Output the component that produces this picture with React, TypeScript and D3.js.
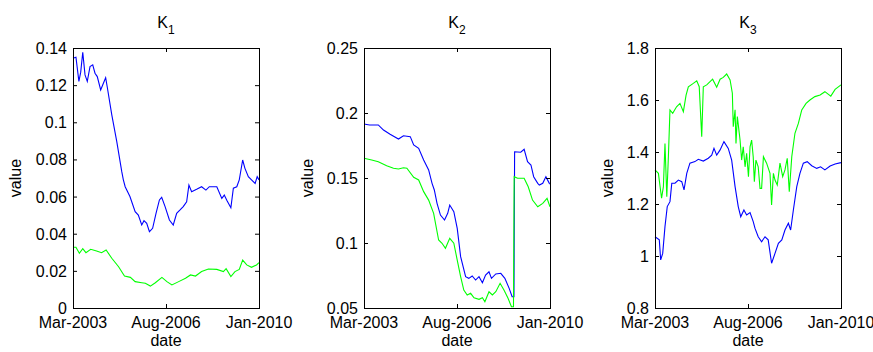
import React from "react";
import * as d3 from "d3";

// months counted from Mar-2003
const xTickMonths = [0, 41, 82];
const xTickLabels = ["Mar-2003", "Aug-2006", "Jan-2010"];

const k1Blue: [number, number][] = [
  [0, 0.1345], [1.3, 0.135], [2.6, 0.122], [3.4, 0.127], [4.3, 0.1377], [5.3, 0.1255],
  [6.3, 0.122], [7.5, 0.13], [8.7, 0.1309], [9.7, 0.1264], [10.7, 0.1246], [12.2, 0.1174],
  [13.4, 0.121], [14.4, 0.124], [15.1, 0.119], [17.1, 0.104], [19.3, 0.0896], [21.5, 0.0734],
  [22.2, 0.069], [23, 0.0653], [25.1, 0.06], [27.4, 0.0519], [28.8, 0.05], [30.3, 0.0447],
  [31.3, 0.047], [32.5, 0.0456], [33.7, 0.0411], [35.1, 0.0429], [36.6, 0.051], [38.1, 0.0582],
  [39.1, 0.0596], [40.6, 0.0546], [42.5, 0.0474], [44.2, 0.0447], [45.7, 0.051], [47.2, 0.0528],
  [48.6, 0.0546], [50.1, 0.0572], [51.1, 0.0662], [52.3, 0.0626], [54.5, 0.0639], [56.7, 0.0653],
  [58.6, 0.0635], [60.1, 0.0653], [63.4, 0.0653], [65.6, 0.059], [66.7, 0.0608], [67.8, 0.058],
  [69.6, 0.054], [70.7, 0.0645], [72.2, 0.0653], [73.3, 0.069], [74.8, 0.0797], [75.8, 0.0752],
  [77.3, 0.0707], [78.7, 0.069], [80.3, 0.0671], [81.2, 0.0707], [82, 0.069],
];
const k1Green: [number, number][] = [
  [0, 0.0327], [1.3, 0.0327], [2.8, 0.0295], [4.3, 0.0319], [5.7, 0.0298], [7.8, 0.0316],
  [10.4, 0.0307], [12.6, 0.0298], [14.6, 0.0312], [17.1, 0.0268], [20.1, 0.0222], [22.7, 0.0172],
  [25.3, 0.0165], [27.4, 0.0142], [30.3, 0.0136], [31.9, 0.0133], [34.1, 0.0118], [36.3, 0.0136],
  [39.2, 0.0165], [41.4, 0.0142], [43.6, 0.0124], [46.6, 0.0142], [49.6, 0.016], [51.8, 0.0178],
  [54, 0.0172], [56.7, 0.0196], [59.7, 0.021], [63.4, 0.0208], [66.3, 0.0196], [67.5, 0.0212],
  [69.6, 0.0169], [71.4, 0.0196], [73.3, 0.0208], [74.8, 0.0258], [76.6, 0.0232], [78.7, 0.0219],
  [80.9, 0.0232], [82, 0.0244],
];

const k2Blue: [number, number][] = [
  [0, 0.1915], [2.4, 0.1908], [6.3, 0.1908], [8.6, 0.1869], [11.5, 0.1836], [15.2, 0.18],
  [17.4, 0.1825], [20.4, 0.1818], [21.9, 0.1754], [24.1, 0.1728], [26.3, 0.1638], [28.5, 0.1562],
  [30, 0.1459], [31, 0.1408], [32.2, 0.1305], [33.7, 0.1215], [35.5, 0.1177], [36.9, 0.1228],
  [37.8, 0.1292], [39.6, 0.1241], [41.1, 0.1113], [42.6, 0.0895], [44.8, 0.0741], [46.2, 0.0728],
  [47.7, 0.0746], [49.2, 0.0715], [50.7, 0.0741], [52.2, 0.0695], [53.6, 0.0754], [55.1, 0.0779],
  [56.2, 0.0728], [58.1, 0.0762], [60.3, 0.0767], [62.1, 0.0728], [64, 0.0651], [65.3, 0.0587],
  [66.1, 0.0587], [66.4, 0.1702], [67.7, 0.17], [69.1, 0.1698], [70.6, 0.1721], [72.1, 0.1625],
  [73.6, 0.16], [74.8, 0.151], [76.6, 0.1459], [77.3, 0.1446], [78.8, 0.1459], [80.2, 0.151],
  [81.7, 0.1459], [82, 0.1454],
];
const k2Green: [number, number][] = [
  [0, 0.1652], [3.4, 0.1638], [6.3, 0.1625], [10, 0.1595], [13, 0.1575], [15.2, 0.1569],
  [17.4, 0.1579], [18.9, 0.1575], [21.9, 0.1505], [24.1, 0.1485], [26.3, 0.1395], [28.5, 0.133],
  [30.7, 0.1228], [32.9, 0.1023], [34.4, 0.0998], [35.9, 0.0959], [37.8, 0.1036], [39.6, 0.0998],
  [41.1, 0.0869], [42.6, 0.0741], [44, 0.0638], [45.5, 0.06], [47, 0.0613], [48.5, 0.0579],
  [50.7, 0.0567], [52.2, 0.0579], [53.3, 0.0548], [55.1, 0.0625], [56.6, 0.06], [58.1, 0.0625],
  [60, 0.069], [61.7, 0.0638], [63.5, 0.0575], [65, 0.051], [65.9, 0.051], [66.2, 0.151],
  [67.7, 0.1498], [70.6, 0.1498], [72.4, 0.1433], [74.3, 0.133], [76.6, 0.1279], [78.8, 0.1305],
  [80.7, 0.1344], [82, 0.1279],
];

const k3Blue: [number, number][] = [
  [0, 1.074], [1.9, 1.062], [2.5, 0.985], [3.4, 1.01], [4.4, 1.113], [5.4, 1.19], [6.6, 1.209],
  [7.4, 1.28], [8.8, 1.28], [10.3, 1.292], [11.8, 1.286], [12.8, 1.254], [14, 1.318], [15.4, 1.357],
  [17.6, 1.363], [19.1, 1.372], [21.3, 1.365], [23.5, 1.376], [25, 1.388], [26, 1.414], [27.2, 1.388],
  [28.7, 1.408], [30.4, 1.44], [32.3, 1.414], [33.8, 1.369], [35.3, 1.267], [36.7, 1.19], [37.8, 1.151],
  [39.2, 1.177], [40.4, 1.158], [41.9, 1.167], [43.3, 1.132], [44.1, 1.106], [45.5, 1.074], [47, 1.055],
  [48.5, 1.074], [49.9, 1.062], [51.4, 0.972], [52.9, 1.01], [54.4, 1.049], [55.9, 1.062], [57.3, 1.1],
  [58.8, 1.126], [59.8, 1.1], [61, 1.177], [62.5, 1.267], [63.9, 1.318], [65.4, 1.357], [67.1, 1.363],
  [69.1, 1.347], [71.3, 1.337], [73, 1.343], [74.9, 1.331], [77.2, 1.346], [79.4, 1.354], [82, 1.359],
];
const k3Green: [number, number][] = [
  [0, 1.331], [1.5, 1.318], [2.9, 1.222], [3.7, 1.267], [4.4, 1.433], [5.2, 1.228], [5.9, 1.382],
  [6.6, 1.562], [7.8, 1.549], [9.5, 1.574], [11, 1.587], [12.5, 1.555], [13.7, 1.619], [14.7, 1.651],
  [16.9, 1.664], [18.4, 1.674], [19.5, 1.651], [20.6, 1.459], [21.3, 1.651], [22.8, 1.658], [25.4, 1.68],
  [27.2, 1.649], [28.7, 1.68], [30.1, 1.687], [31.6, 1.7], [33.1, 1.677], [34.1, 1.626], [34.5, 1.497],
  [35.3, 1.562], [35.7, 1.433], [36.3, 1.536], [37.5, 1.446], [38.2, 1.369], [38.9, 1.42], [39.7, 1.343],
  [40.4, 1.395], [41.2, 1.305], [41.9, 1.42], [42.6, 1.446], [43.3, 1.382], [43.8, 1.286], [44.5, 1.369],
  [45.5, 1.343], [46.3, 1.26], [47, 1.26], [47.8, 1.382], [49.2, 1.357], [50.7, 1.318], [51.4, 1.196],
  [52.2, 1.318], [52.9, 1.292], [53.9, 1.273], [55.1, 1.357], [56.3, 1.305], [57.3, 1.331], [58.3, 1.376],
  [59.2, 1.247], [60.3, 1.382], [61.7, 1.472], [63.2, 1.51], [64.7, 1.562], [66.6, 1.587], [68.3, 1.6],
  [70.5, 1.613], [72.8, 1.619], [74.9, 1.632], [77.5, 1.615], [79.4, 1.641], [82, 1.658],
];

const k1YTicks = [0, 0.02, 0.04, 0.06, 0.08, 0.1, 0.12, 0.14];
const k2YTicks = [0.05, 0.1, 0.15, 0.2, 0.25];
const k3YTicks = [0.8, 1, 1.2, 1.4, 1.6, 1.8];

const panels = [
  { sub: "1", yTicks: k1YTicks, series: [k1Blue, k1Green], labelGap: 56 },
  { sub: "2", yTicks: k2YTicks, series: [k2Blue, k2Green], labelGap: 55 },
  { sub: "3", yTicks: k3YTicks, series: [k3Blue, k3Green], labelGap: 46 },
];
const colors = ["#0000ff", "#00ff00"];

const W = 873;
const H = 352;
const plotW = 186;
const plotH = 260;
const top = 48;
const font = "'Liberation Sans', Arial, sans-serif";
const tickLen = 4;
const fmt = d3.format("~g");

function Panel({ p, left }: { p: (typeof panels)[number]; left: number }) {
  const x = d3.scaleLinear().domain([0, 82]).range([left, left + plotW]);
  const y = d3
    .scaleLinear()
    .domain([p.yTicks[0], p.yTicks[p.yTicks.length - 1]])
    .range([top + plotH, top]);
  const line = d3
    .line<[number, number]>()
    .x((d) => x(d[0]))
    .y((d) => y(d[1]));
  const cx = left + plotW / 2;
  const bottom = top + plotH;

  return (
    <g>
      {p.series.map((s, i) => (
        <path key={i} d={line(s) || ""} fill="none" stroke={colors[i]} strokeWidth={1.1} />
      ))}
      <rect x={left + 0.5} y={top + 0.5} width={plotW} height={plotH} fill="none" stroke="#000" strokeWidth={1} />
      {xTickMonths.map((m, i) => (
        <g key={"x" + i}>
          <line x1={x(m) + 0.5} x2={x(m) + 0.5} y1={bottom} y2={bottom - tickLen} stroke="#000" />
          <line x1={x(m) + 0.5} x2={x(m) + 0.5} y1={top} y2={top + tickLen} stroke="#000" />
          <text x={x(m)} y={328} textAnchor="middle" fontSize={16} fontFamily={font} fill="#000">
            {xTickLabels[i]}
          </text>
        </g>
      ))}
      {p.yTicks.map((v, i) => (
        <g key={"y" + i}>
          <line x1={left} x2={left + tickLen} y1={y(v) + 0.5} y2={y(v) + 0.5} stroke="#000" />
          <line x1={left + plotW} x2={left + plotW - tickLen} y1={y(v) + 0.5} y2={y(v) + 0.5} stroke="#000" />
          <text x={left - 6} y={y(v) + 6} textAnchor="end" fontSize={16} fontFamily={font} fill="#000">
            {fmt(v)}
          </text>
        </g>
      ))}
      <text x={cx} y={346} textAnchor="middle" fontSize={16} fontFamily={font} fill="#000">
        date
      </text>
      <text
        transform={`translate(${left - p.labelGap},${top + plotH / 2}) rotate(-90)`}
        textAnchor="middle"
        dominantBaseline="middle"
        fontSize={16}
        fontFamily={font}
        fill="#000"
      >
        value
      </text>
      <text x={cx} y={28} textAnchor="middle" fontSize={16} fontFamily={font} fill="#000">
        K
        <tspan fontSize={12} dy={6}>
          {p.sub}
        </tspan>
      </text>
    </g>
  );
}

export default function App() {
  return (
    <svg
      width={W}
      height={H}
      style={{ position: "absolute", left: 0, top: 0, background: "#fff" }}
    >
      {panels.map((p, i) => (
        <Panel key={i} p={p} left={73 + 291 * i} />
      ))}
    </svg>
  );
}
